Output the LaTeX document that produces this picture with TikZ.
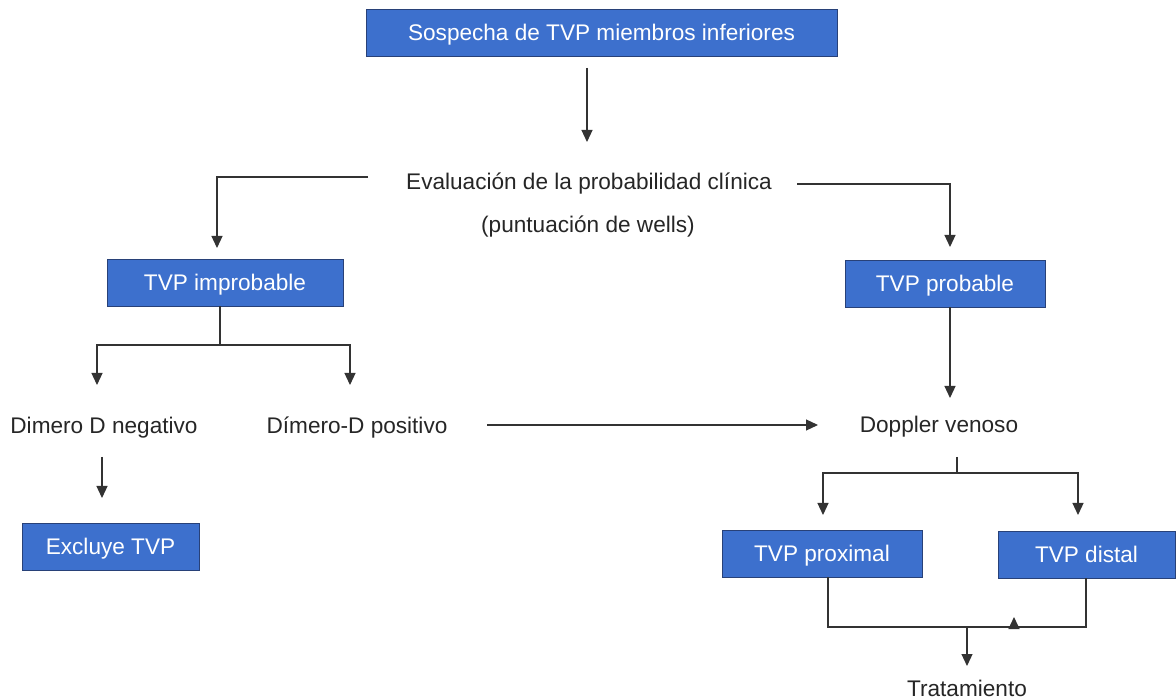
\documentclass[tikz,border=0pt]{standalone}
\usepackage{fontspec}
\setmainfont{Liberation Sans}
\usetikzlibrary{arrows.meta,calc}
\definecolor{boxblue}{RGB}{61,112,205}
\definecolor{boxline}{RGB}{40,65,120}
\begin{document}
\begin{tikzpicture}[x=1pt,y=-1pt,
  txt/.style={inner sep=0pt,text height=16.2pt,text depth=0pt,font=\fontsize{22.6}{27}\selectfont},
  bluebox/.style={txt,draw=boxline,line width=0.8pt,fill=boxblue,text=white,minimum height=47pt},
  plain/.style={txt,text=black!85},
  conn/.style={line width=1.2pt,draw=black!80},
  arr/.style={conn,-{Triangle[width=11pt,length=12pt]}}]
\useasboundingbox (0,0) rectangle (1176,700);
\fill[white] (0,0) rectangle (1176,700);

\node[bluebox,minimum width=471pt] (top) at (601.5,32.5) {Sospecha de TVP miembros inferiores};
\node[plain] (eval) at (589,181) {Evaluación de la probabilidad clínica};
\node[plain] (wells) at (588,224) {(puntuación de wells)};
\node[bluebox,minimum width=236pt] (improb) at (225,282.5) {TVP improbable};
\node[bluebox,minimum width=200pt] (prob) at (945,283.5) {TVP probable};
\node[plain] (dneg) at (104,425) {Dimero D negativo};
\node[plain] (dpos) at (357,425) {Dímero-D positivo};
\node[plain] (doppler) at (939,424) {Doppler venoso};
\node[bluebox,minimum width=177pt] (excl) at (110.5,546.5) {Excluye TVP};
\node[bluebox,minimum width=200pt] (prox) at (822,553.5) {TVP proximal};
\node[bluebox,minimum width=177pt] (dist) at (1086.5,554.5) {TVP distal};
\node[plain] (trat) at (967,688.5) {Tratamiento};

% top -> eval
\coordinate (t1) at (587,68);
\coordinate (t2) at (587,142);
\draw[arr] (t1) -- (t2);

% eval -> improbable / probable
\coordinate (el) at (368,177);
\coordinate (er) at (797,184);
\draw[arr] (el) -| (217,248);
\draw[arr] (er) -| (950,247);

% improbable -> dimero
\coordinate (bl) at (220,345);
\draw[conn] ([xshift=-5pt]improb.south) -- (bl);
\draw[arr] (bl) -| (97,385);
\draw[arr] (bl) -| (350,385);

% dimero positivo -> doppler
\coordinate (h1) at (487,425);
\coordinate (h2) at (818,425);
\draw[arr] (h1) -- (h2);

% probable -> doppler
\draw[arr] ([xshift=5pt]prob.south) -- (950,398);

% dimero negativo -> excluye
\coordinate (n1) at (102,457);
\coordinate (n2) at (102,498);
\draw[arr] (n1) -- (n2);

% doppler -> proximal / distal
\coordinate (d1) at (957,457);
\coordinate (d2) at (957,473);
\draw[conn] (d1) -- (d2);
\draw[arr] (d2) -| (823,515);
\draw[arr] (d2) -| (1078,515);

% proximal / distal -> tratamiento
\coordinate (j1) at (828,627);
\coordinate (j2) at (1086,627);
\draw[conn] ([xshift=6pt]prox.south) -- (j1) -- (j2) -- ([xshift=-0.5pt]dist.south);
\draw[arr] (1014,627) -- (1014,617);
\draw[arr] (967,627) -- (967,666);
\end{tikzpicture}
\end{document}
